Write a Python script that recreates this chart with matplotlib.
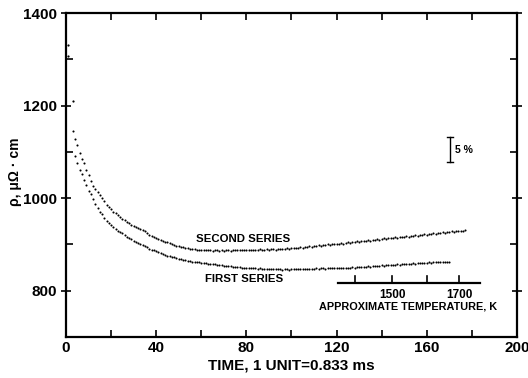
import numpy as np
import matplotlib.pyplot as plt

# ==========================================
# DATA
# ==========================================
time_second = np.arange(3, 178)
rho_second = [
    1145, 1128, 1114, 1098, 1085, 1075, 1061, 1049, 1038, 1027,
    1020, 1014, 1006, 1000, 993, 986, 981, 976, 971, 967,
    963, 959, 955, 952, 949, 946, 943, 940, 938, 936,
    933, 931, 928, 925, 921, 918, 916, 914, 912, 910,
    908, 906, 905, 903, 901, 899, 897, 896, 895, 894,
    893, 892, 891, 890, 890, 889, 889, 888, 888, 887,
    888, 887, 886, 887, 887, 886, 887, 886, 887, 887,
    886, 887, 888, 887, 887, 888, 887, 888, 889, 888,
    889, 888, 889, 890, 889, 889, 890, 889, 890, 890,
    889, 890, 891, 890, 891, 892, 891, 892, 893, 892,
    893, 894, 893, 894, 895, 896, 895, 896, 897, 898,
    897, 898, 899, 900, 899, 901, 900, 902, 901, 903,
    902, 904, 905, 904, 906, 905, 907, 906, 908, 907,
    908, 909, 908, 910, 909, 911, 910, 912, 913, 912,
    913, 914, 913, 915, 914, 916, 917, 916, 918, 917,
    919, 918, 920, 919, 921, 920, 922, 921, 923, 922,
    924, 923, 925, 924, 926, 925, 927, 926, 928, 927,
    929, 928, 930, 929, 931,
]

time_first = np.arange(4, 171)
rho_first = [
    1091, 1075, 1061, 1052, 1039, 1028, 1016, 1008, 998, 988,
    978, 970, 965, 958, 951, 946, 941, 937, 934, 930,
    927, 924, 920, 917, 914, 911, 908, 906, 904, 901,
    899, 897, 894, 891, 889, 887, 885, 883, 881, 879,
    878, 876, 874, 873, 872, 870, 869, 868, 867, 866,
    865, 864, 863, 862, 862, 861, 860, 860, 859, 858,
    858, 857, 857, 856, 856, 855, 854, 854, 853, 853,
    852, 852, 851, 851, 850, 850, 849, 849, 848, 849,
    848, 847, 848, 847, 846, 847, 846, 847, 846, 846,
    847, 846, 845, 846, 846, 845, 846, 846, 847, 846,
    846, 847, 846, 847, 847, 846, 847, 848, 847, 848,
    848, 847, 848, 849, 848, 849, 849, 848, 849, 850,
    850, 849, 850, 851, 850, 851, 852, 851, 852, 852,
    853, 852, 853, 854, 853, 854, 855, 854, 855, 855,
    856, 855, 856, 857, 856, 857, 857, 858, 857, 858,
    859, 858, 859, 860, 859, 860, 860, 861, 860, 861,
    861, 862, 861, 862, 862, 861, 862,
]

# stray early points near t = 0
time_early = [1.0, 1.0, 3.2]
rho_early = [1330, 1308, 1211]

# approximate temperature scale (K) and where it sits on the time axis
temp_values = [1400, 1500, 1600, 1700]
temp_time = [128.4, 144.8, 160.0, 174.4]
temp_labels = ['', '1500', '', '1700']

FONT = ['Liberation Sans Narrow', 'Liberation Sans', 'DejaVu Sans']
plt.rcParams['font.family'] = FONT
plt.rcParams['font.weight'] = 'bold'

fig = plt.figure(figsize=(5.28, 3.78), dpi=100, facecolor='white')
ax = fig.add_axes([0.125, 0.1085, 0.854, 0.857])

ax.plot(time_second, rho_second, 'o', color='black', markersize=1.5, markeredgewidth=0)
ax.plot(time_first, rho_first, 'o', color='black', markersize=1.5, markeredgewidth=0)
ax.plot(time_early, rho_early, 'o', color='black', markersize=1.6, markeredgewidth=0)

ax.set_xlim(0, 200)
ax.set_ylim(700, 1400)
ax.set_xticks(np.arange(0, 201, 40))
ax.set_xticks(np.arange(20, 200, 40), minor=True)
ax.set_yticks([800, 1000, 1200, 1400])
ax.set_yticks([900, 1100, 1300], minor=True)

for s in ax.spines.values():
    s.set_linewidth(1.6)
ax.tick_params(axis='both', which='major', direction='inout', length=7, width=1.2,
               top=True, right=True, labelsize=11, pad=3)
ax.tick_params(axis='x', which='major', direction='in', length=5)
ax.tick_params(axis='both', which='minor', direction='in', length=5, width=1.2,
               top=True, right=True)
for lab in ax.get_xticklabels() + ax.get_yticklabels():
    lab.set_fontweight('bold')

# axis labels
ax.text(0.5, -0.087, 'TIME, 1 UNIT=0.833 ms', transform=ax.transAxes,
        ha='center', va='center', fontsize=11, fontweight='bold')
ax.text(-0.113, 0.51, 'ρ, μΩ · cm', transform=ax.transAxes, rotation=90,
        ha='center', va='center', fontsize=10, fontweight='bold')

# series labels
ax.text(57.8, 912, 'SECOND SERIES', fontsize=8.2, fontweight='bold', va='center')
ax.text(61.8, 826, 'FIRST SERIES', fontsize=8.2, fontweight='bold', va='center')

# temperature scale
ax.plot([120.6, 183.7], [817, 817], color='black', linewidth=1.6)
for tt, lab in zip(temp_time, temp_labels):
    ax.plot([tt, tt], [817, 832], color='black', linewidth=1.2)
    if lab:
        ax.text(tt, 803, lab, ha='center', va='top', fontsize=8.5, fontweight='bold')
ax.text(151.9, 766, 'APPROXIMATE TEMPERATURE, K', ha='center', va='center',
        fontsize=7.8, fontweight='bold')

# 5 % scale bar
ax.plot([170.4, 170.4], [1078, 1133], color='black', linewidth=1.0)
ax.plot([169.0, 171.8], [1078, 1078], color='black', linewidth=1.0)
ax.plot([169.0, 171.8], [1133, 1133], color='black', linewidth=1.0)
ax.text(172.6, 1105, '5 %', ha='left', va='center', fontsize=7.5, fontweight='bold')

plt.savefig('out.png', dpi=100)
